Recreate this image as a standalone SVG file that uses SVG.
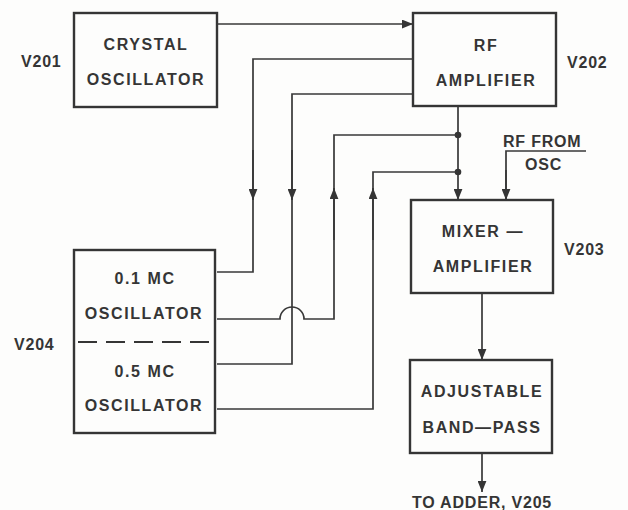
<svg xmlns="http://www.w3.org/2000/svg" width="628" height="510" viewBox="0 0 628 510">
<defs>
<style>
.box{fill:none;stroke:#353535;stroke-width:2.4}
.ln{fill:none;stroke:#383838;stroke-width:1.7}
.t{font-family:"Liberation Sans",Arial,sans-serif;font-weight:bold;font-size:16px;fill:#353535;letter-spacing:1.6px;text-anchor:middle}
.lbl{font-family:"Liberation Sans",Arial,sans-serif;font-weight:bold;font-size:16px;fill:#353535;letter-spacing:0.8px}
.ar{fill:#353535}
</style>
<marker id="ah" viewBox="0 0 10 8" refX="10" refY="4" markerWidth="11" markerHeight="9" markerUnits="userSpaceOnUse" orient="auto">
<path d="M0,0 L10,4 L0,8 Z" class="ar"/>
</marker>
</defs>
<rect width="628" height="510" fill="#fdfdfc"/>

<g id="V201">
<rect class="box" x="74" y="13" width="143" height="94"/>
<text class="t" x="146" y="50">CRYSTAL</text>
<text class="t" x="146" y="85">OSCILLATOR</text>
<text class="lbl" x="21" y="67">V201</text>
</g>

<g id="V202">
<rect class="box" x="413" y="13" width="143" height="93"/>
<text class="t" x="486" y="51">RF</text>
<text class="t" x="486" y="86">AMPLIFIER</text>
<text class="lbl" x="567" y="68">V202</text>
</g>

<g id="V203">
<rect class="box" x="411" y="200" width="142" height="93"/>
<text class="t" x="483" y="237">MIXER —</text>
<text class="t" x="483" y="272">AMPLIFIER</text>
<text class="lbl" x="564" y="255">V203</text>
</g>

<g id="bandpass">
<rect class="box" x="410" y="360" width="142" height="93"/>
<text class="t" x="482" y="397">ADJUSTABLE</text>
<text class="t" x="482" y="433">BAND—PASS</text>
</g>

<g id="V204">
<rect class="box" x="74" y="250" width="141" height="183"/>
<line x1="78" y1="342" x2="211" y2="342" stroke="#353535" stroke-width="2.2" stroke-dasharray="19 9"/>
<text class="t" x="145" y="284">0.1 MC</text>
<text class="t" x="144" y="319">OSCILLATOR</text>
<text class="t" x="145" y="377">0.5 MC</text>
<text class="t" x="144" y="411">OSCILLATOR</text>
<text class="lbl" x="14" y="350">V204</text>
</g>

<g id="rfosc">
<text class="lbl" x="503" y="147">RF FROM</text>
<text class="lbl" x="525" y="170">OSC</text>
</g>

<g id="output">
<text class="lbl" x="482" y="508" text-anchor="middle">TO ADDER, V205</text>
</g>

<g id="connectors">
<line class="ln" x1="217" y1="24" x2="413" y2="24" marker-end="url(#ah)"/>
<polyline class="ln" points="217,272 253,272 253,59 413,59"/>
<line class="ln" x1="253" y1="150" x2="253" y2="200" marker-end="url(#ah)"/>
<polyline class="ln" points="217,364 292,364 292,94 413,94"/>
<line class="ln" x1="292" y1="150" x2="292" y2="200" marker-end="url(#ah)"/>
<line class="ln" x1="458" y1="106" x2="458" y2="200" marker-end="url(#ah)"/>
<circle cx="458" cy="135" r="3.3" class="ar"/>
<circle cx="458" cy="172" r="3.3" class="ar"/>
<path class="ln" d="M217,319 L280,319 A12,12 0 0 1 304,319 L334,319 L334,135 L458,135"/>
<line class="ln" x1="334" y1="240" x2="334" y2="188" marker-end="url(#ah)"/>
<polyline class="ln" points="217,409 373,409 373,172 458,172"/>
<line class="ln" x1="373" y1="240" x2="373" y2="188" marker-end="url(#ah)"/>
<polyline class="ln" points="586,151 506,151 506,200"/>
<line class="ln" x1="506" y1="170" x2="506" y2="200" marker-end="url(#ah)"/>
<line class="ln" x1="482" y1="293" x2="482" y2="360" marker-end="url(#ah)"/>
<line class="ln" x1="482" y1="453" x2="482" y2="492" marker-end="url(#ah)"/>
</g>
</svg>
